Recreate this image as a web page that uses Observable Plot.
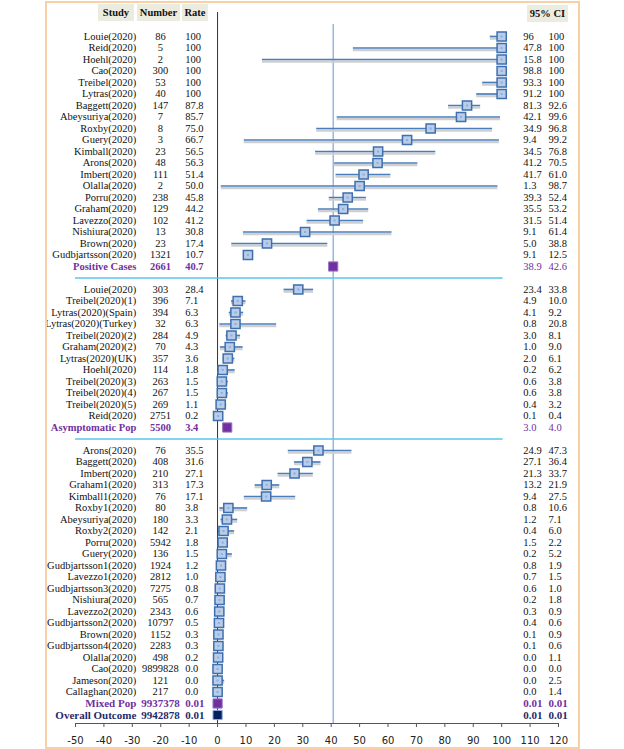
<!DOCTYPE html>
<html><head><meta charset="utf-8">
<script src="https://cdn.jsdelivr.net/npm/d3@7"></script>
<script src="https://cdn.jsdelivr.net/npm/@observablehq/plot@0.6"></script>
<style>
body{margin:0;background:#fff;}
#wrap{position:relative;width:624px;height:749px;overflow:hidden;}
#frame{position:absolute;left:45px;top:1px;width:535px;height:748px;border:2px solid #f9cfa8;box-sizing:border-box;pointer-events:none;}
.hdr{position:absolute;background:#ecebdf;font:bold 10.5px "Liberation Serif",serif;text-align:center;line-height:17px;height:17px;color:#111;}
#chart{position:absolute;left:0;top:0;}
</style></head><body>
<div id="wrap">
<div class="hdr" style="left:98px;top:4px;width:36px;">Study</div>
<div class="hdr" style="left:137px;top:4px;width:43px;">Number</div>
<div class="hdr" style="left:182px;top:4px;width:26px;">Rate</div>
<div class="hdr" style="left:527px;top:5px;width:41px;">95% CI</div>
<div id="chart"></div>
<div id="frame"></div>
</div>
<script>
// ---- Section 1: positive cases ----
const posStudy = ["Louie(2020)","Reid(2020)","Hoehl(2020)","Cao(2020)","Treibel(2020)","Lytras(2020)","Baggett(2020)","Abeysuriya(2020)","Roxby(2020)","Guery(2020)","Kimball(2020)","Arons(2020)","Imbert(2020)","Olalla(2020)","Porru(2020)","Graham(2020)","Lavezzo(2020)","Nishiura(2020)","Brown(2020)","Gudbjartsson(2020)"];
const posN = [86,5,2,300,53,40,147,7,8,3,23,48,111,2,238,129,102,13,23,1321];
const posRate = ["100","100","100","100","100","100","87.8","85.7","75.0","66.7","56.5","56.3","51.4","50.0","45.8","44.2","41.2","30.8","17.4","10.7"];
const posLo = ["96","47.8","15.8","98.8","93.3","91.2","81.3","42.1","34.9","9.4","34.5","41.2","41.7","1.3","39.3","35.5","31.5","9.1","5.0","9.1"];
const posHi = ["100","100","100","100","100","100","92.6","99.6","96.8","99.2","76.8","70.5","61.0","98.7","52.4","53.2","51.4","61.4","38.8","12.5"];

// ---- Section 2: asymptomatic population ----
const asyStudy = ["Louie(2020)","Treibel(2020)(1)","Lytras(2020)(Spain)","Lytras(2020)(Turkey)","Treibel(2020)(2)","Graham(2020)(2)","Lytras(2020)(UK)","Hoehl(2020)","Treibel(2020)(3)","Treibel(2020)(4)","Treibel(2020)(5)","Reid(2020)"];
const asyN = [303,396,394,32,284,70,357,114,263,267,269,2751];
const asyRate = ["28.4","7.1","6.3","6.3","4.9","4.3","3.6","1.8","1.5","1.5","1.1","0.2"];
const asyLo = ["23.4","4.9","4.1","0.8","3.0","1.0","2.0","0.2","0.6","0.6","0.4","0.1"];
const asyHi = ["33.8","10.0","9.2","20.8","8.1","9.0","6.1","6.2","3.8","3.8","3.2","0.4"];

// ---- Section 3: mixed population ----
const mixStudy = ["Arons(2020)","Baggett(2020)","Imbert(2020)","Graham1(2020)","Kimball1(2020)","Roxby1(2020)","Abeysuriya(2020)","Roxby2(2020)","Porru(2020)","Guery(2020)","Gudbjartsson1(2020)","Lavezzo1(2020)","Gudbjartsson3(2020)","Nishiura(2020)","Lavezzo2(2020)","Gudbjartsson2(2020)","Brown(2020)","Gudbjartsson4(2020)","Olalla(2020)","Cao(2020)","Jameson(2020)","Callaghan(2020)"];
const mixN = [76,408,210,313,76,80,180,142,5942,136,1924,2812,7275,565,2343,10797,1152,2283,498,9899828,121,217];
const mixRate = ["35.5","31.6","27.1","17.3","17.1","3.8","3.3","2.1","1.8","1.5","1.2","1.0","0.8","0.7","0.6","0.5","0.3","0.3","0.2","0.0","0.0","0.0"];
const mixLo = ["24.9","27.1","21.3","13.2","9.4","0.8","1.2","0.4","1.5","0.2","0.8","0.7","0.6","0.2","0.3","0.4","0.1","0.1","0.0","0.0","0.0","0.0"];
const mixHi = ["47.3","36.4","33.7","21.9","27.5","10.6","7.1","6.0","2.2","5.2","1.9","1.5","1.0","1.8","0.9","0.6","0.9","0.6","1.1","0.0","2.5","1.4"];

// ---- Pooled summaries ----
const sumLabel = ["Positive Cases","Asymptomatic Pop","Mixed Pop","Overall Outcome"];
const sumN = [2661,5500,9937378,9942878];
const sumRate = ["40.7","3.4","0.01","0.01"];
const sumLo = ["38.9","3.0","0.01","0.01"];
const sumHi = ["42.6","4.0","0.01","0.01"];

const xTicks = [-50,-40,-30,-20,-10,0,10,20,30,40,50,60,70,80,90,100,110,120];

// ---- build row table ----
const rows = [];
let r = 0;
function addSection(st, n, rate, lo, hi) {
  st.forEach((s, k) => rows.push({i: r++, study: s, n: String(n[k]), rate: rate[k], lo: lo[k], hi: hi[k], kind: "study"}));
}
function addSummary(k, kind) {
  rows.push({i: r++, study: sumLabel[k], n: String(sumN[k]), rate: sumRate[k], lo: sumLo[k], hi: sumHi[k], kind});
}
const seps = [];
addSection(posStudy, posN, posRate, posLo, posHi); addSummary(0, "sumA"); seps.push(r++);
addSection(asyStudy, asyN, asyRate, asyLo, asyHi); addSummary(1, "sumA"); seps.push(r++);
addSection(mixStudy, mixN, mixRate, mixLo, mixHi); addSummary(2, "sumB"); addSummary(3, "overall");

const studies = rows.filter(d => d.kind === "study");
const sums = rows.filter(d => d.kind !== "study");
const sumsA = rows.filter(d => d.kind === "sumA");
const sumsB = rows.filter(d => d.kind === "sumB" || d.kind === "overall");
const ciRows = studies.filter(d => +d.hi > +d.lo);

const COL_STUDY = -28.6, COL_N = -20.1, COL_RATE = -11.4, COL_LO = 107.6, COL_HI = 116.5;
const Y_TOP = -2.09, Y_AXIS = 59.74;
const PURPLE = "#7030a0", NAVY = "#1f2a6b";
const txtColor = d => d.kind === "overall" ? NAVY : d.kind === "study" ? "#111" : PURPLE;
const FS = 10.5;

function textCol(data, field, col, anchor, weight, size = FS) {
  return Plot.text(data, {x: () => col, y: "i", text: field, textAnchor: anchor, fill: txtColor, fontWeight: weight, fontSize: size, fontFamily: "Liberation Serif"});
}
function textCols(data, weight, ciWeight, size) {
  return [
    textCol(data, "study", COL_STUDY, "end", weight, size),
    textCol(data, "n", COL_N, "middle", weight, size),
    textCol(data, "rate", COL_RATE, "start", weight, size),
    textCol(data, "lo", COL_LO, "start", ciWeight, size),
    textCol(data, "hi", COL_HI, "start", ciWeight, size)
  ];
}

const chart = Plot.plot({
  width: 624, height: 749,
  marginLeft: 75, marginRight: 66, marginTop: 13, marginBottom: 26,
  x: {domain: [-50, 120]},
  y: {domain: [Y_TOP + 0.09, Y_AXIS], reverse: true, axis: null},
  style: {background: "transparent", fontFamily: "Liberation Serif", fontSize: "10px", color: "#222"},
  marks: [
    Plot.ruleY([Y_AXIS], {x1: -50, x2: 120, stroke: "#555", strokeWidth: 1}),
    Plot.axisX({ticks: xTicks, tickSize: 4, tickPadding: 9, tickFormat: d => String(d), fontFamily: "DejaVu Sans", fontSize: 10, stroke: "#555"}),
    Plot.ruleX([0], {y1: Y_TOP, y2: Y_AXIS, stroke: "#333", strokeWidth: 1}),
    Plot.ruleX([+sumRate[0]], {y1: -1.04, y2: Y_AXIS, stroke: "#7ea6dc", strokeWidth: 1.2}),
    Plot.ruleY(seps, {x1: -50, x2: 100.5, stroke: "#5cc4ee", strokeWidth: 1.5}),
    Plot.ruleY(ciRows, {x1: d => +d.lo, x2: d => +d.hi, y: "i", dy: 2.2, stroke: "#cfcfcf", strokeWidth: 2.2}),
    Plot.ruleY(ciRows, {x1: d => +d.lo, x2: d => +d.hi, y: "i", stroke: "#4a7ebb", strokeWidth: 1.7}),
    Plot.dot(studies, {x: d => +d.rate, y: "i", symbol: "square", r: 5.2, fill: "#b9cde8", stroke: "#3f6fae", strokeWidth: 1.5}),
    Plot.dot(studies, {x: d => +d.rate, y: "i", symbol: "square", r: 1.2, fill: "#8fb0dc"}),
    Plot.dot(sums, {x: d => +d.rate, y: "i", symbol: "square", r: 5.2, fill: d => d.kind === "overall" ? "#06205e" : PURPLE, stroke: d => d.kind === "overall" ? "#8fb0dc" : "#9a76c2", strokeWidth: 1}),
    ...textCols(studies, "normal", "normal", FS),
    ...textCols(sumsA, "bold", "normal", FS),
    ...textCols(sumsB, "bold", "bold", 11)
  ]
});
document.getElementById("chart").appendChild(chart);
</script>
</body></html>
